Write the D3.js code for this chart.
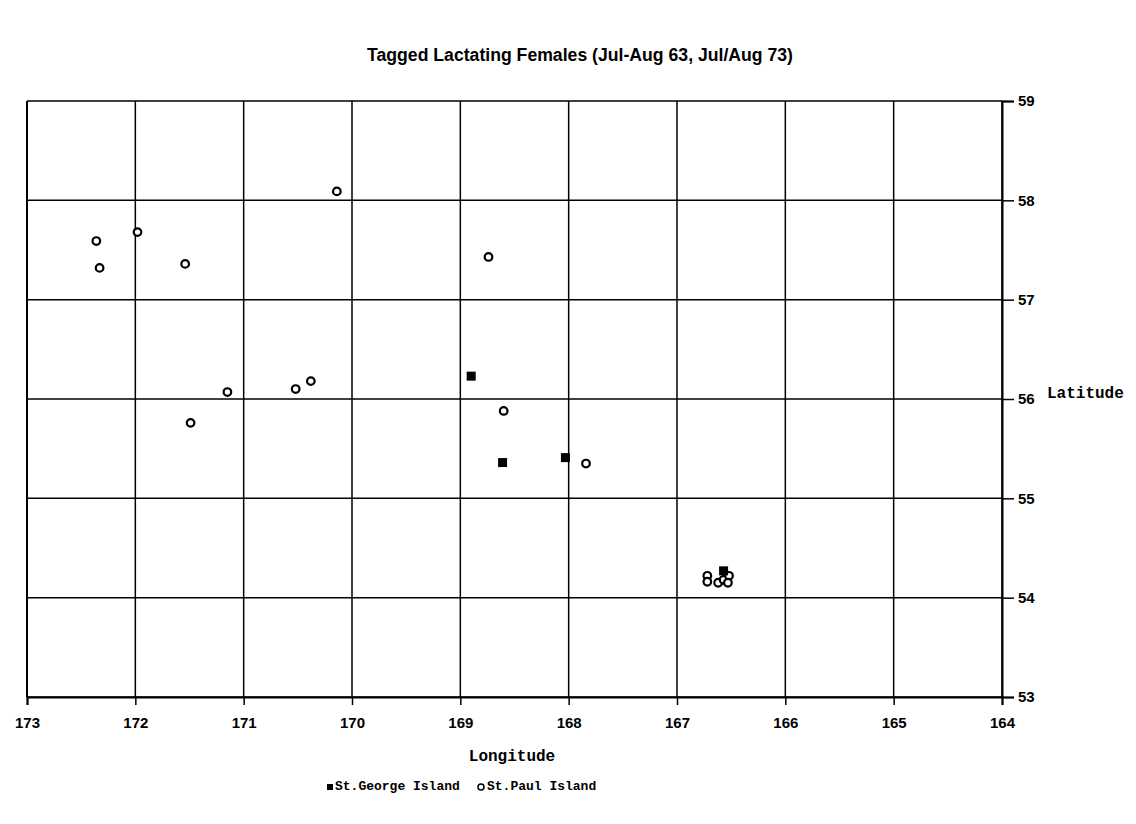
<!DOCTYPE html>
<html>
<head>
<meta charset="utf-8">
<script src="https://cdn.jsdelivr.net/npm/d3@7"></script>
<style>
  html, body { margin: 0; padding: 0; background: #fff; }
  svg { display: block; }
</style>
</head>
<body>
<svg id="chart" width="1136" height="824"></svg>
<script>
// Tag recovery positions (degrees W longitude, degrees N latitude)
const stPaulLon = [172.36, 172.33, 171.98, 171.54, 170.14, 168.74, 171.15, 171.49, 170.52, 170.38, 168.60, 167.84,
                   166.72, 166.72, 166.62, 166.57, 166.52, 166.53];
const stPaulLat = [57.59, 57.32, 57.68, 57.36, 58.09, 57.43, 56.07, 55.76, 56.10, 56.18, 55.88, 55.35,
                   54.22, 54.16, 54.15, 54.18, 54.22, 54.15];
const stGeorgeLon = [168.90, 168.61, 168.03, 166.57];
const stGeorgeLat = [56.23, 55.36, 55.41, 54.27];

const lonTicks = [173, 172, 171, 170, 169, 168, 167, 166, 165, 164];
const latTicks = [53, 54, 55, 56, 57, 58, 59];

const svg = d3.select("#chart");
const plot = { left: 27, right: 1002, top: 101, bottom: 697 };

const x = d3.scaleLinear().domain([173, 164]).range([plot.left, plot.right]);
const y = d3.scaleLinear().domain([53, 59]).range([plot.bottom, plot.top]);

// Title
svg.append("text")
  .attr("x", 580).attr("y", 61)
  .attr("text-anchor", "middle")
  .attr("font-family", "'Liberation Sans Narrow', 'Liberation Sans', Arial, sans-serif")
  .attr("font-weight", "bold")
  .attr("font-size", 18)
  .attr("textLength", 426)
  .attr("lengthAdjust", "spacingAndGlyphs")
  .text("Tagged Lactating Females (Jul-Aug 63, Jul/Aug 73)");

// Gridlines
const grid = svg.append("g").attr("stroke", "#000").attr("stroke-width", 1.5);
grid.selectAll("line.v").data(lonTicks).join("line")
  .attr("x1", d => x(d)).attr("x2", d => x(d))
  .attr("y1", plot.top).attr("y2", plot.bottom);
grid.selectAll("line.h").data(latTicks).join("line")
  .attr("x1", plot.left).attr("x2", plot.right)
  .attr("y1", d => y(d)).attr("y2", d => y(d));

const tickFont = "'Liberation Sans', Arial, sans-serif";

// Bottom axis
const xAxis = svg.append("g")
  .attr("transform", `translate(0,${plot.bottom})`)
  .call(d3.axisBottom(x).tickValues(lonTicks).tickSize(8).tickPadding(12).tickFormat(d3.format("d")));
xAxis.select(".domain").attr("stroke", "#000").attr("stroke-width", 2);
xAxis.selectAll(".tick line").attr("stroke", "#000").attr("stroke-width", 1.5);
xAxis.selectAll(".tick text")
  .attr("font-family", tickFont).attr("font-weight", "bold").attr("font-size", 15).attr("fill", "#000");

// Right axis
const yAxis = svg.append("g")
  .attr("transform", `translate(${plot.right},0)`)
  .call(d3.axisRight(y).tickValues(latTicks).tickSize(12).tickPadding(4).tickFormat(d3.format("d")));
yAxis.select(".domain").attr("stroke", "#000").attr("stroke-width", 2);
yAxis.selectAll(".tick line").attr("stroke", "#000").attr("stroke-width", 1.5);
yAxis.selectAll(".tick text")
  .attr("font-family", tickFont).attr("font-weight", "bold").attr("font-size", 15).attr("fill", "#000");

// Left frame edge
svg.append("line")
  .attr("x1", plot.left).attr("x2", plot.left)
  .attr("y1", plot.top).attr("y2", plot.bottom)
  .attr("stroke", "#000").attr("stroke-width", 2);

const monoFont = "'Liberation Mono', 'DejaVu Sans Mono', monospace";

// Axis titles
svg.append("text")
  .attr("x", 1047).attr("y", 398)
  .attr("font-family", monoFont).attr("font-weight", "bold").attr("font-size", 16)
  .text("Latitude");
svg.append("text")
  .attr("x", 512).attr("y", 761)
  .attr("text-anchor", "middle")
  .attr("font-family", monoFont).attr("font-weight", "bold").attr("font-size", 16)
  .text("Longitude");

// St. Paul Island: open circles
const paul = stPaulLon.map((lon, i) => ({ lon, lat: stPaulLat[i] }));
svg.append("g").selectAll("circle").data(paul).join("circle")
  .attr("cx", d => x(d.lon)).attr("cy", d => y(d.lat))
  .attr("r", 3.8)
  .attr("fill", "#fff").attr("stroke", "#000").attr("stroke-width", 2.2);

// St. George Island: filled squares
const george = stGeorgeLon.map((lon, i) => ({ lon, lat: stGeorgeLat[i] }));
const sq = 9;
svg.append("g").selectAll("rect").data(george).join("rect")
  .attr("x", d => x(d.lon) - sq / 2).attr("y", d => y(d.lat) - sq / 2)
  .attr("width", sq).attr("height", sq)
  .attr("fill", "#000");

// Legend
const legend = svg.append("g").attr("transform", "translate(327,790)");
legend.append("rect").attr("x", 0).attr("y", -6).attr("width", 6).attr("height", 6).attr("fill", "#000");
legend.append("text").attr("x", 8).attr("y", 0)
  .attr("font-family", monoFont).attr("font-weight", "bold").attr("font-size", 13)
  .text("St.George Island");
legend.append("circle").attr("cx", 154).attr("cy", -3).attr("r", 3)
  .attr("fill", "#fff").attr("stroke", "#000").attr("stroke-width", 1.5);
legend.append("text").attr("x", 160).attr("y", 0)
  .attr("font-family", monoFont).attr("font-weight", "bold").attr("font-size", 13)
  .text("St.Paul Island");
</script>
</body>
</html>
